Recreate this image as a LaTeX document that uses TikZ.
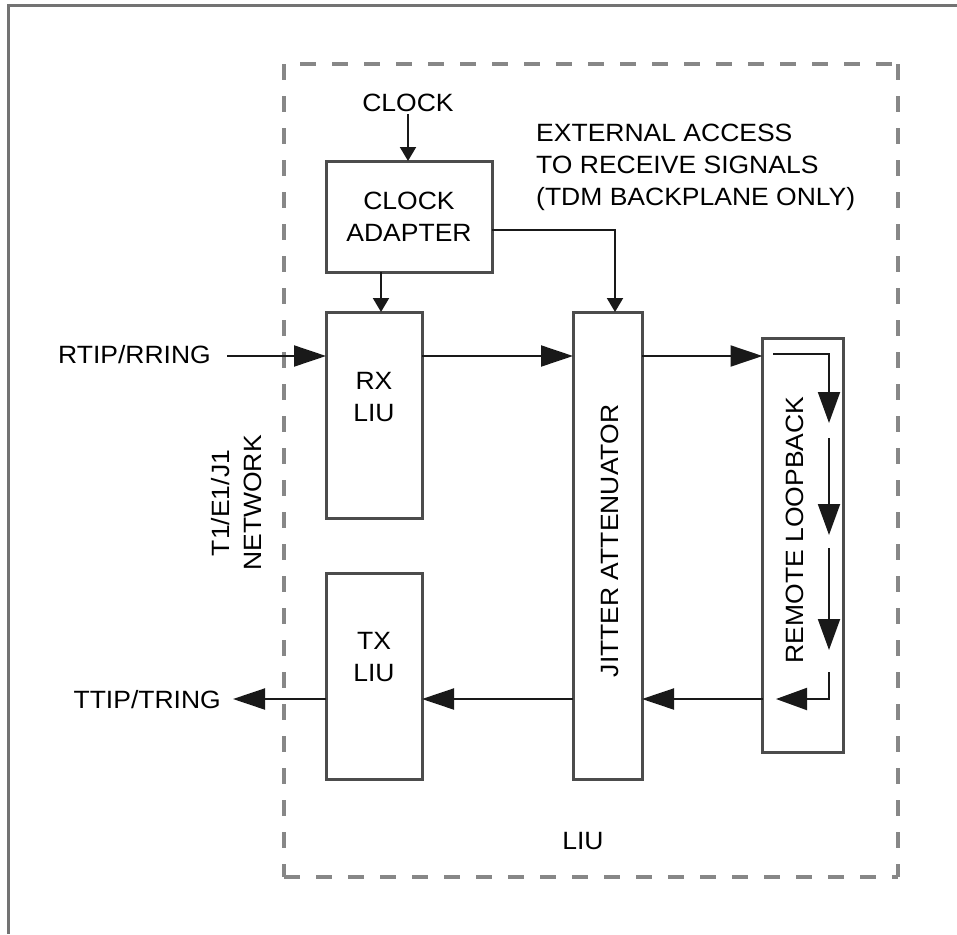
\documentclass[tikz,border=0pt]{standalone}
\usepackage{fontspec}
\setmainfont{Liberation Sans}[FakeStretch=1.06]
\usetikzlibrary{arrows.meta}
\begin{document}
\begin{tikzpicture}[x=1pt,y=-1pt,
  font=\fontsize{25}{32}\selectfont,
  blk/.style={draw=black!70, line width=3pt, inner sep=0pt, outer sep=0pt, align=center, text=black},
  lbl/.style={inner sep=2pt, align=center, text=black},
  conn/.style={draw=black!90, line width=2pt},
  bigarr/.style={conn, -{Triangle[length=32pt,width=21pt]}},
  smallarr/.style={conn, -{Triangle[length=14pt,width=16pt]}},
  loopseg/.style={conn, -{Triangle[length=31pt,width=22pt]}},
  frame/.style={draw=black!55, line width=3.5pt},
  dashbox/.style={draw=black!47, line width=4pt, dash pattern=on 16pt off 16pt}
]
\useasboundingbox (0,0) rectangle (957,934);
% outer frame
\draw[frame] (7,5.5) -- (957,5.5);
\draw[frame] (8.5,4) -- (8.5,934);
% dashed LIU box
\draw[dashbox, dash phase=16pt] (284,64) -- (898,64);
\draw[dashbox] (284,64) -- (284,877);
\draw[dashbox] (284,877) -- (898,877);
\draw[dashbox] (898,64) -- (898,877);

% blocks
\node[blk, minimum width=166pt, minimum height=111pt] (ca) at (409,216.5) {CLOCK\\ADAPTER};
\node[blk, minimum width=96pt, minimum height=206pt] (rx) at (374,415) {};
\node[lbl] (rxt) at (374,397) {RX\\LIU};
\node[blk, minimum width=96pt, minimum height=206pt] (tx) at (374,676) {};
\node[lbl] (txt) at (374,657) {TX\\LIU};
\node[blk, minimum width=69pt, minimum height=467pt] (jit) at (607.5,545.5) {};
\node[lbl, rotate=90] (jitt) at (610,541) {JITTER ATTENUATOR};
\node[blk, minimum width=81pt, minimum height=414pt] (rem) at (803,545.5) {};
\node[lbl, rotate=90] (remt) at (795,530) {REMOTE LOOPBACK};

% labels
\node[lbl] (clk) at (408,103) {CLOCK};
\node[lbl, align=left, anchor=west] (ext) at (534,167) {EXTERNAL ACCESS\\TO RECEIVE SIGNALS\\(TDM BACKPLANE ONLY)};
\node[lbl, anchor=east] (rtip) at (213,355) {RTIP/RRING};
\node[lbl, anchor=east] (ttip) at (223,700) {TTIP/TRING};
\node[lbl, rotate=90] (net) at (237,503) {T1/E1/J1\\NETWORK};
\node[lbl] (liu) at (583,841) {LIU};

% helper coordinates
\coordinate (top) at (0,356);
\coordinate (bot) at (0,699);
\coordinate (rtipend) at (227,356);
\coordinate (ttipend) at (233,699);
\coordinate (cax) at (381,0);
\coordinate (extc) at (615,230);

% clock connections
\draw[smallarr] (clk.south) -- (clk.south |- ca.north);
\draw[smallarr] (ca.south -| cax) -- (rx.north -| cax);
\draw[smallarr] (ca.east |- extc) -- (extc) -- (extc |- jit.north);

% receive path
\draw[bigarr] (rtipend) -- (rtipend -| rx.west);
\draw[bigarr] (rx.east |- top) -- (jit.west |- top);
\draw[bigarr] (jit.east |- top) -- (rem.west |- top);

% transmit path
\draw[bigarr] (rem.west |- bot) -- (jit.east |- bot);
\draw[bigarr] (jit.west |- bot) -- (tx.east |- bot);
\draw[bigarr] (tx.west |- bot) -- (ttipend);

% remote loopback internal path
\coordinate (l0) at (773,354);
\coordinate (l1) at (829,354);
\coordinate (l2) at (829,423);
\coordinate (l3) at (829,438);
\coordinate (l4) at (829,535);
\coordinate (l5) at (829,548);
\coordinate (l6) at (829,650);
\coordinate (l7) at (829,672);
\coordinate (l8) at (829,699);
\coordinate (l9) at (776,699);
\draw[loopseg] (l0) -- (l1) -- (l2);
\draw[loopseg] (l3) -- (l4);
\draw[loopseg] (l5) -- (l6);
\draw[loopseg] (l7) -- (l8) -- (l9);
\end{tikzpicture}
\end{document}
